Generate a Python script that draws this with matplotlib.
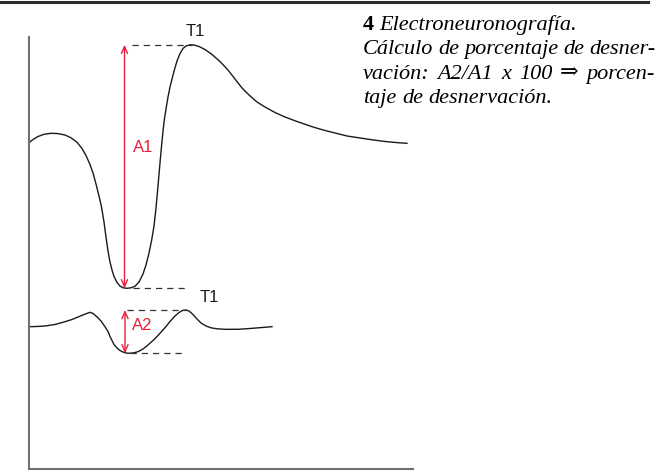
import matplotlib
matplotlib.use('Agg')
import matplotlib.pyplot as plt
from matplotlib.lines import Line2D


# time and amplitude (arbitrary units)
t_a1 = [0, 4, 9, 15, 22, 29, 36, 42, 48, 53, 57, 61, 64, 67, 70, 72.5, 75,
        77, 79, 81, 83, 85, 88, 91, 94, 98, 102, 106, 110, 114, 117, 120,
        122.5, 125, 127, 129, 131, 133, 135, 137, 139, 141, 143, 145.5, 148,
        151, 154, 157, 161, 165, 170, 176, 183, 191, 199, 206, 213, 220, 228,
        236, 246, 256, 268, 284, 296, 318, 341, 356, 369, 378]
v_a1 = [326.3, 329.5, 332.5, 334.7, 335.7, 335.4, 334, 331.2, 326.8, 320.5,
        313.5, 304.5, 296, 285, 273, 262, 247, 232, 218, 207, 199, 192.5,
        186.5, 183, 181.2, 180.7, 181.2, 182.7, 187, 195, 204, 216, 228, 243,
        261, 283, 306, 328, 347, 360, 372, 382, 390, 399.5, 408, 415.5, 420.5,
        423, 424.2, 424, 422.5, 419.5, 414.5, 407.5, 399, 390, 381, 374, 367,
        362, 356.5, 352, 347.5, 342, 338.5, 333, 329.5, 327.5, 326.3, 325.7]

t_a2 = [0, 8, 16, 26, 36, 43, 49, 55, 61, 64, 68, 72, 76, 79, 81, 83, 85,
        88, 91, 95, 99, 104, 109, 114, 119, 124, 129, 133, 137, 141, 146,
        150, 154, 157, 160, 164, 168, 172, 177, 182, 188, 196, 209, 221, 233,
        243]
v_a2 = [142.3, 142.5, 143, 144.5, 147.3, 149.5, 152, 154.5, 156.7, 155.5,
        152.2, 148, 142.3, 137.5, 132.5, 128.5, 124.5, 121, 118.5, 116.5,
        115.7, 116, 117.3, 120, 124, 128.5, 133.5, 138, 142.5, 147.5, 153,
        156.5, 158.7, 159, 158, 154.5, 150, 146, 143, 141.2, 140.2, 139.7,
        139.7, 140.5, 141.5, 142.3]

labels = ['A1', 'A2']
peak_label = 'T1'

caption_num = '4'
caption_title = 'Electroneuronografía.'
caption_lines = ['Cálculo de porcentaje de desner-',
                 'vación: A2/A1 x 100 \u21d2 porcen-',
                 'taje de desnervación.']

RED = '#e8203a'
W, H = 664, 476

fig = plt.figure(figsize=(W / 100, H / 100), dpi=100)
ax = fig.add_axes([29 / W, 7 / H, 384 / W, 432 / H])
ax.set_xlim(0, 384)
ax.set_ylim(0, 432)
for s in ('top', 'right'):
    ax.spines[s].set_visible(False)
for s in ('left', 'bottom'):
    ax.spines[s].set_color('#707070')
    ax.spines[s].set_linewidth(1.5)
ax.set_xticks([])
ax.set_yticks([])

# arrow x, top dash span, bottom dash span, amplitude label, T1 label
marks = [(95.5, (103, 163), (104, 158), (114, 322), (166.5, 437)),
         (96, (98, 158), (101, 156), (113, 144), (180, 171))]

for (t, v), (xa, top_span, bot_span, lab_pos, t1_pos), lab in zip(
        [(t_a1, v_a1), (t_a2, v_a2)], marks, labels):
    ax.plot(t, v, color='#1a1a1a', lw=1.0, solid_joinstyle='round')
    vmax, vmin = max(v), min(v)
    ax.plot(top_span, [vmax, vmax], color='#333333', lw=0.9, ls=(0, (5, 4)))
    ax.plot(bot_span, [vmin, vmin], color='#333333', lw=0.9, ls=(0, (5, 4)))
    ax.annotate('', xy=(xa, vmax), xytext=(xa, vmin),
                arrowprops=dict(arrowstyle='<->,head_length=0.5,head_width=0.22',
                                color=RED, lw=1.0, shrinkA=0, shrinkB=0))
    ax.text(*lab_pos, lab, color=RED, fontsize=12, family='Liberation Sans',
            ha='center', va='center')
    ax.text(*t1_pos, peak_label, color='#1a1a1a', fontsize=12,
            family='Liberation Sans', ha='center', va='center', clip_on=False)

# rule across the top of the page
fig.add_artist(Line2D([0, 648 / W], [1 - 1.5 / H, 1 - 1.5 / H],
                      color='#2a2a2a', lw=2.2, transform=fig.transFigure))

# caption, justified like the printed text
serif = ['Liberation Serif', 'DejaVu Serif']
fs = 16
x_left, x_right = 363, 655
r = fig.canvas.get_renderer()


def width(t):
    return t.get_window_extent(r).width


probe = fig.text(0, 0, 'a a', family=serif, style='italic', fontsize=fs)
probe2 = fig.text(0, 0, 'aa', family=serif, style='italic', fontsize=fs)
space = width(probe) - width(probe2)
probe.remove()
probe2.remove()

y0 = 30
num = fig.text(x_left / W, 1 - y0 / H, caption_num, family=serif,
               weight='bold', fontsize=fs, va='baseline')
fig.text((x_left + width(num) + space) / W, 1 - y0 / H, caption_title,
         family=serif, style='italic', fontsize=fs, va='baseline')

for i, line in enumerate(caption_lines):
    y = 1 - (y0 + 24.3 * (i + 1)) / H
    words = line.split(' ')
    texts = [fig.text(0, y, w, family=serif, style='italic', fontsize=fs,
                      va='baseline') for w in words]
    ws = [width(t) for t in texts]
    last = i == len(caption_lines) - 1
    gap = space if last else (x_right - x_left - sum(ws)) / (len(words) - 1)
    x = x_left
    for t, w in zip(texts, ws):
        t.set_x(x / W)
        x += w + gap

fig.savefig('out.png', dpi=100)
